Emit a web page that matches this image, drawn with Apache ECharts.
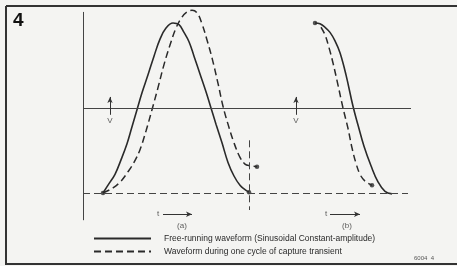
<!DOCTYPE html>
<html>
<head>
    <meta charset="utf-8">
    <title></title>
    <script src="https://cdn.jsdelivr.net/npm/echarts@6/dist/echarts.min.js"></script>
</head>
<body style="margin:0;background:#f4f4f2;">
    <div id="main" style="width: 457px;height:266px;"></div>
    <script type="text/javascript">
// t = time (arbitrary units), v = normalised voltage (-1 .. +1)
var solidA = [[20,-1.00],[26,-0.89],[32,-0.78],[38,-0.61],[44,-0.42],[49,-0.22],[54,-0.02],[59,0.18],
  [65,0.39],[71,0.61],[77,0.81],[83,0.94],[90,1.00],[96,0.98],[101,0.89],[106,0.78],[111,0.61],[117,0.40],
  [123,0.19],[128,0.00],[133,-0.19],[139,-0.41],[145,-0.64],[151,-0.80],[157,-0.91],[162,-0.96],[166,-0.99]]
var dashA = [[20,-1.00],[30,-0.94],[38,-0.86],[45,-0.75],[51,-0.64],[57,-0.49],[63,-0.27],[69,-0.02],
  [75,0.24],[81,0.51],[87,0.74],[93,0.94],[99,1.07],[104,1.13],[109,1.15],[114,1.12],[119,0.99],
  [124,0.80],[129,0.59],[135,0.29],[140,0.02],[145,-0.19],[151,-0.41],[157,-0.58],[162,-0.66],[167,-0.68],[174,-0.69]]
var solidB = [[232,1.00],[237,0.99],[242,0.95],[247,0.89],[252,0.79],[257,0.65],[263,0.39],[270,0.02],
  [275,-0.20],[281,-0.45],[288,-0.68],[295,-0.87],[302,-0.98],[309,-1.01]]
var dashB = [[238,0.95],[242,0.86],[246,0.71],[250,0.53],[255,0.27],[260,0.00],[265,-0.24],[269,-0.47],
  [273,-0.65],[277,-0.78],[282,-0.86],[289,-0.91]]
var endDots = [[20,-1.00],[166,-0.99],[174,-0.69],[232,1.00],[289,-0.91]]
var arrowsV = [27, 213]           // t of the amplitude arrows
var timeArrows = [[80,109],[247,277]]
var labels = [[27,-0.15,'V'],[213,-0.15,'V'],[75,-1.25,'t'],[243,-1.25,'t'],[99,-1.39,'(a)'],[264,-1.39,'(b)']]
var legendNames = ['Free-running waveform (Sinusoidal Constant-amplitude)', 'Waveform during one cycle of capture transient']

var myChart = echarts.init(document.getElementById('main'));
var ink = '#2a2a2a'

var refLines = [
  [{coord:[0,1.13]},{coord:[0,-1.32]}],
  [{coord:[0,0]},{coord:[328,0]}],
  [{coord:[0,-1],lineStyle:{type:[7,4]}},{coord:[325,-1]}],
  [{coord:[166,-0.38],lineStyle:{type:[7,4]}},{coord:[166,-1.2]}]
]
var arrowLines = []
arrowsV.forEach(function (t) {
  arrowLines.push([{coord:[t,-0.08]},{coord:[t,0.13]}])
})
timeArrows.forEach(function (a) {
  arrowLines.push([{coord:[a[0],-1.25]},{coord:[a[1],-1.25]}])
})

option = {
  backgroundColor: '#f4f4f2',
  animation: false,
  grid: {left: 83, top: 6, right: 4, bottom: 5},
  xAxis: {type: 'value', min: 0, max: 370, show: false},
  yAxis: {type: 'value', min: -1.8, max: 1.2, show: false},
  legend: {
    orient: 'vertical', left: 93, top: 234, padding: 0,
    itemWidth: 57, itemHeight: 8, itemGap: 4,
    data: legendNames,
    itemStyle: {opacity: 0},
    textStyle: {fontFamily: 'Liberation Sans', fontSize: 8.5, color: ink, padding: [0,0,0,8]}
  },
  graphic: [
    {type:'line', shape:{x1:6,y1:6,x2:457,y2:6}, style:{stroke:'#333',lineWidth:2}},
    {type:'line', shape:{x1:6,y1:6,x2:6,y2:265}, style:{stroke:'#333',lineWidth:2}},
    {type:'line', shape:{x1:6,y1:264,x2:457,y2:264}, style:{stroke:'#333',lineWidth:2}},
    {type:'text', left: 13, top: 11, style:{text:'4', font:'bold 19px Liberation Sans', fill:'#111'}},
    {type:'text', left: 414, top: 255, style:{text:'6004  4', font:'6px Liberation Sans', fill:'#555'}}
  ],
  series: [{
    name: legendNames[0], type: 'line', data: solidA, smooth: 0.4, symbol: 'none',
    lineStyle: {color: ink, width: 1.6}, itemStyle: {color: ink},
    markLine: {silent: true, symbol: 'none', label: {show: false},
      lineStyle: {color: '#444', width: 1, type: 'solid'}, data: refLines}
  }, {
    name: legendNames[0], type: 'line', data: solidB, smooth: 0.4, symbol: 'none',
    lineStyle: {color: ink, width: 1.6}, itemStyle: {color: ink},
    markLine: {silent: true, symbol: ['none','arrow'], symbolSize: [4,6], label: {show: false},
      lineStyle: {color: '#333', width: 1, type: 'solid'}, data: arrowLines}
  }, {
    name: legendNames[1], type: 'line', data: dashA, smooth: 0.4, symbol: 'none',
    lineStyle: {color: ink, width: 1.5, type: [7,4]}, itemStyle: {color: ink}
  }, {
    name: legendNames[1], type: 'line', data: dashB, smooth: 0.4, symbol: 'none',
    lineStyle: {color: ink, width: 1.5, type: [7,4]}, itemStyle: {color: ink}
  }, {
    type: 'scatter', data: endDots, symbolSize: 4.5, itemStyle: {color: ink}, silent: true
  }, {
    type: 'scatter', data: labels, symbolSize: 0, silent: true,
    label: {show: true, position: 'inside', color: '#333', fontFamily: 'Liberation Sans', fontSize: 8,
      formatter: function (p) { return p.value[2] }}
  }]
}
myChart.setOption(option);
    </script>
</body>
</html>
